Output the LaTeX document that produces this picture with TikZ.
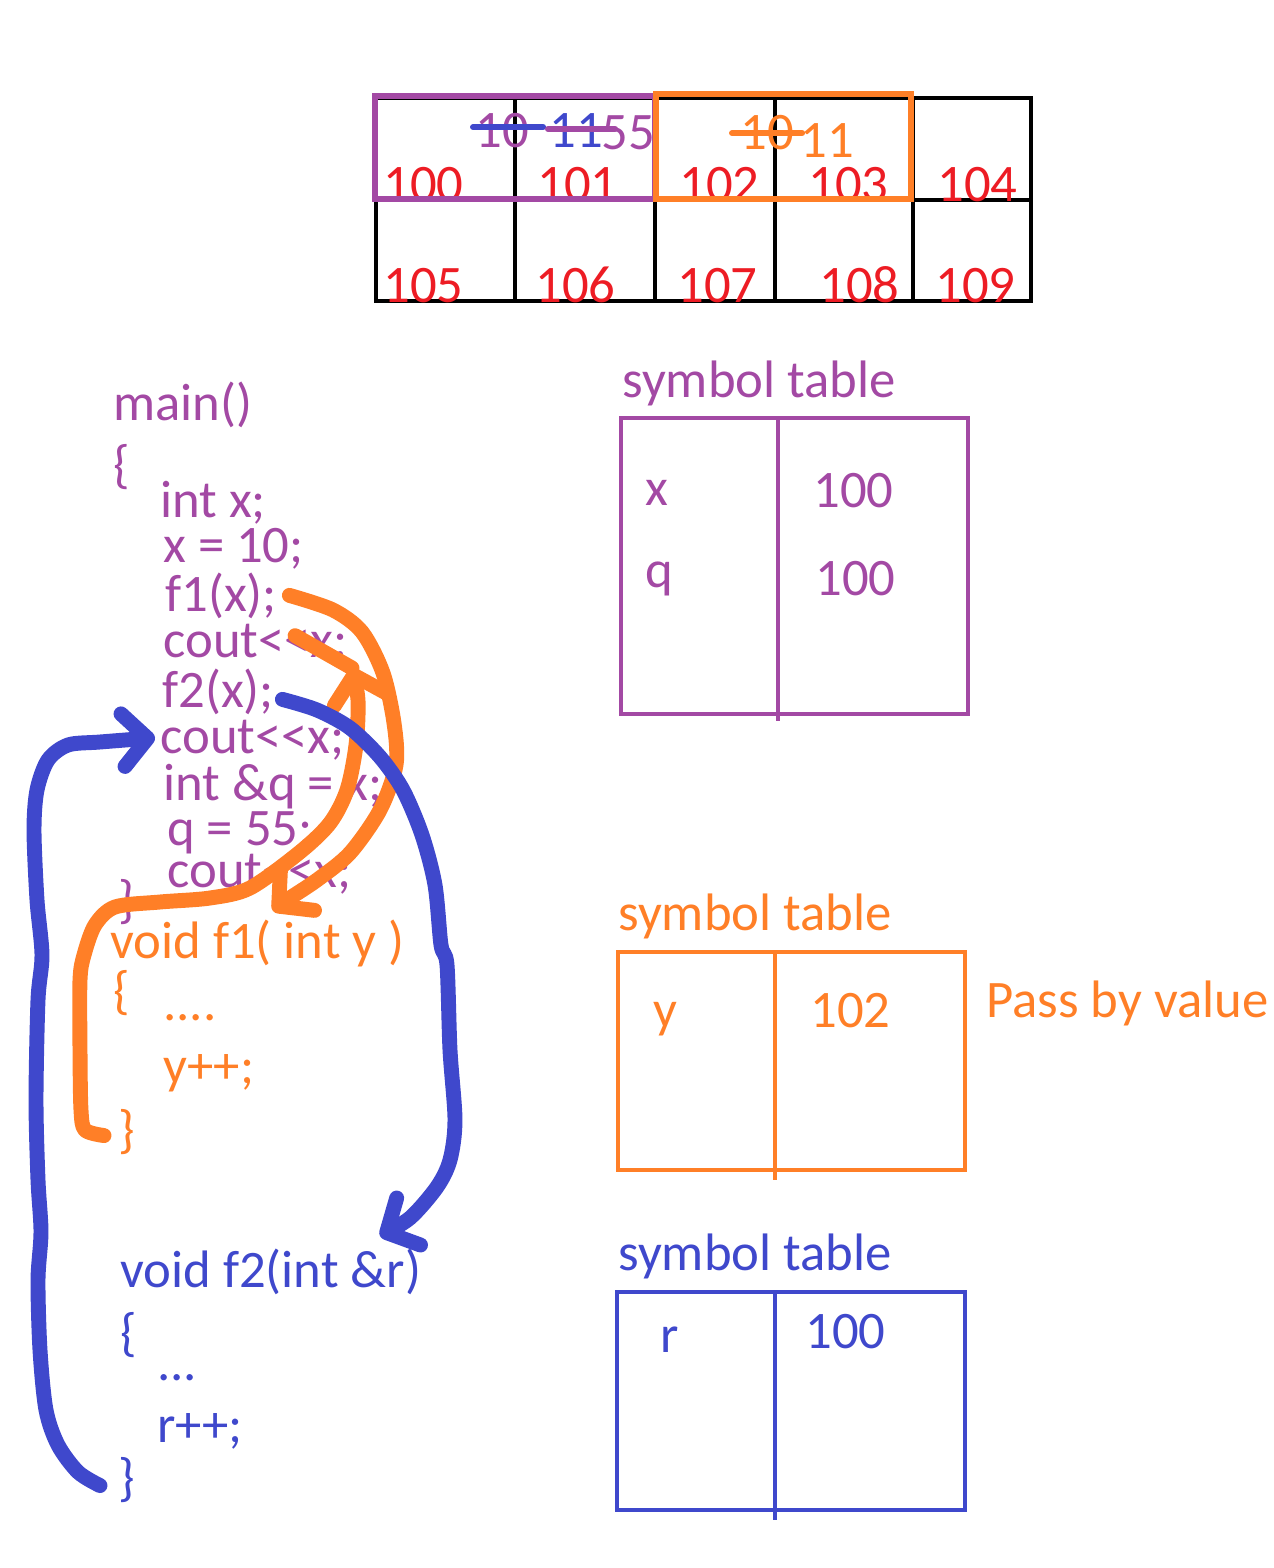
\documentclass[tikz,border=0pt]{standalone}
\usepackage{fontspec}
\setmainfont{Carlito}
\usetikzlibrary{arrows.meta,calc}

\definecolor{inkpurple}{HTML}{A349A4}
\definecolor{inkorange}{HTML}{FF7F27}
\definecolor{inkblue}{HTML}{3F48CC}
\definecolor{inkred}{HTML}{ED1C24}

% "<<" without the TeX guillemet ligature
\newcommand\shiftl{<\kern0pt <}

\tikzset{
  txt/.style={anchor=base west, inner sep=0pt, font=\fontsize{30}{35}\selectfont},
  cellline/.style={line width=2.3pt, draw=black},
  hilite/.style={line width=3.4pt},
  symbox/.style={line width=2.3pt},
  strike/.style={line width=3.4pt, line cap=round},
  pen/.style={line width=8.5pt, line cap=round, line join=round},
  tip/.style={-{Straight Barb[length=14pt,width=30pt,round]}}
}

\begin{document}
\begin{tikzpicture}[x=0.02cm,y=-0.02cm]
\useasboundingbox (0,0) rectangle (1274,1568);

% memory cells
\draw[cellline] (376,98) rectangle (1031,301);
\draw[cellline] (376,200) -- (1031,200);
\foreach \x in {515,655,775,913}
  \draw[cellline] (\x,98) -- (\x,301);
\foreach \x/\n in {383/100,537/101,679/102,808/103,937/104}
  \node[txt,text=inkred] (m\n) at (\x,201) {\n};
\foreach \x/\n in {383/105,535/106,677/107,819/108,935/109}
  \node[txt,text=inkred] (m\n) at (\x,302) {\n};
\draw[hilite,inkpurple] (375,96) rectangle (655,199);
\draw[hilite,inkorange] (656,94) rectangle (911,199);

% values written into the cells
\node[txt,text=inkpurple] (xold) at (475,147) {10};
\node[txt,text=inkblue] (xmid) at (549,148) {11};
\node[txt,text=inkpurple] (xnew) at (601,150) {55};
\node[txt,text=inkorange] (yold) at (740,150) {10};
\node[txt,text=inkorange] (ynew) at (800,157) {11};
\draw[strike,inkblue] ($(xold.west)+(-2,-3)$) -- ($(xold.east)+(14,-3)$);
\draw[strike,inkpurple] ($(xmid.west)+(-1,-2)$) -- ($(xmid.east)+(12,-2)$);
\draw[strike,inkorange] ($(yold.west)+(-8,0)$) -- ($(yold.east)+(8,0)$);

% main
\node[txt,text=inkpurple] (mainhead) at (113,420) {main()};
\node[txt,text=inkpurple] (mainopen) at (113,482) {\{};
\node[txt,text=inkpurple] (decl) at (160,517) {int x;};
\node[txt,text=inkpurple] (assign) at (163,562) {x = 10;};
\node[txt,text=inkpurple] (callf1) at (165,611) {f1(x);};
\node[txt,text=inkpurple] (coutone) at (163,657) {cout\shiftl x;};
\node[txt,text=inkpurple] (callf2) at (162,707) {f2(x);};
\node[txt,text=inkpurple] (couttwo) at (160,753) {cout\shiftl x;};
\node[txt,text=inkpurple] (refq) at (163,800) {int \&q = x;};
\node[txt,text=inkpurple] (setq) at (167,845) {q = 55;};
\node[txt,text=inkpurple] (coutthree) at (167,887) {cout\shiftl x;};
\node[txt,text=inkpurple] (mainclose) at (118,917) {\}};

% f1
\node[txt,text=inkorange] (fonehead) at (110,958) {void f1( int y )};
\node[txt,text=inkorange] (foneopen) at (113,1008) {\{};
\node[txt,text=inkorange] (fonedots) at (163,1020) {....};
\node[txt,text=inkorange] (foneinc) at (163,1083) {y++;};
\node[txt,text=inkorange] (foneclose) at (118,1147) {\}};

% f2
\node[txt,text=inkblue] (ftwohead) at (120,1287) {void f2(int \&r)};
\node[txt,text=inkblue] (ftwoopen) at (120,1350) {\{};
\node[txt,text=inkblue] (ftwodots) at (157,1380) {...};
\node[txt,text=inkblue] (ftwoinc) at (157,1442) {r++;};
\node[txt,text=inkblue] (ftwoclose) at (118,1495) {\}};

% symbol tables
\node[txt,text=inkpurple] (stmain) at (622,397) {symbol table};
\draw[symbox,inkpurple] (621,418) rectangle (968,714);
\draw[symbox,inkpurple] (778,418) -- (778,721);
\node[txt,text=inkpurple] (symx) at (645,505) {x};
\node[txt,text=inkpurple] (adrx) at (813,507) {100};
\node[txt,text=inkpurple] (symq) at (645,587) {q};
\node[txt,text=inkpurple] (adrq) at (815,595) {100};

\node[txt,text=inkorange] (stfone) at (618,930) {symbol table};
\draw[symbox,inkorange] (618,952) rectangle (965,1170);
\draw[symbox,inkorange] (775,952) -- (775,1180);
\node[txt,text=inkorange] (symy) at (653,1027) {y};
\node[txt,text=inkorange] (adry) at (810,1027) {102};
\node[txt,text=inkorange] (byval) at (986,1017) {Pass by value};

\node[txt,text=inkblue] (stftwo) at (618,1270) {symbol table};
\draw[symbox,inkblue] (617,1292) rectangle (965,1510);
\draw[symbox,inkblue] (775,1292) -- (775,1520);
\node[txt,text=inkblue] (symr) at (660,1352) {r};
\node[txt,text=inkblue] (adrr) at (805,1348) {100};

% call f1 and return
\draw[pen,inkorange,tip] plot[smooth] coordinates {($(callf1.east)+(12,0)$) (333,610) (362,632) (383,673) (394,723) (396,765) (380,810) (350,853) (317,880) (287,900) (273,911)};
\draw[pen,inkorange,tip] plot[smooth] coordinates {($(foneclose.west)+(-14,4)$) (85,1130) (81,1110) (80,1050) (80,980) (84,955) (95,925) (115,907) (160,902) (210,898) (250,888) (300,852) (330,823) (347,790) (356,745) (358,700) (352,668)};
\draw[pen,inkorange] (352,668) -- ($(coutone.east)+(-53,-8)$);

% call f2 and return
\draw[pen,inkblue,tip] plot[smooth] coordinates {($(callf2.east)+(8,8)$) (317,710) (350,728) (380,757) (403,790) (422,835) (435,885) (441,945) (447,965) (450,1050) (455,1120) (450,1160) (437,1187) (410,1218) (380,1236)};
\draw[pen,inkblue,tip] plot[smooth] coordinates {($(ftwoclose.west)+(-18,6)$) (78,1472) (58,1445) (46,1410) (40,1350) (38,1280) (41,1232) (38,1180) (36,1100) (38,1000) (42,955) (37,900) (34,830) (37,790) (48,760) (68,745) (100,742) ($(couttwo.west)+(-5,-2)$)};
\end{tikzpicture}
\end{document}
